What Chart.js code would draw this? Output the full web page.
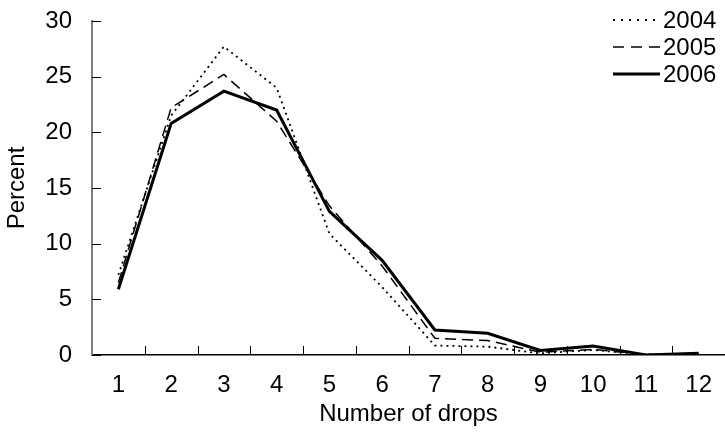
<!DOCTYPE html>
<html>
<head>
<meta charset="utf-8">
<script src="https://cdn.jsdelivr.net/npm/chart.js@4"></script>
<style>
  html, body { margin: 0; padding: 0; background: #fff; }
  #wrap { width: 725px; height: 446px; }
</style>
</head>
<body>
<div id="wrap"><canvas id="chart"></canvas></div>
<script>
// Values
const drops = ['1', '2', '3', '4', '5', '6', '7', '8', '9', '10', '11', '12'];
const pct2004 = [7.2, 21.5, 27.7, 24.0, 10.9, 6.1, 0.85, 0.75, 0.15, 0.45, 0.05, 0.1];
const pct2005 = [6.5, 22.2, 25.2, 21.0, 13.4, 8.0, 1.5, 1.3, 0.25, 0.5, 0.05, 0.15];
const pct2006 = [5.9, 20.8, 23.7, 22.0, 12.9, 8.5, 2.25, 1.95, 0.4, 0.8, 0.0, 0.15];
const yTicks = [0, 5, 10, 15, 20, 25, 30];

const FONT = '"Liberation Sans", Arial, sans-serif';
const FSIZE = 24;

// tick marks pointing into the plot, like the original
const innerTicks = {
  id: 'innerTicks',
  afterDraw(chart) {
    const ctx = chart.ctx;
    const x = chart.scales.x, y = chart.scales.y;
    const area = chart.chartArea;
    ctx.save();
    ctx.strokeStyle = '#000';
    ctx.lineWidth = 1;
    ctx.beginPath();
    yTicks.forEach(v => {
      const py = Math.round(y.getPixelForValue(v)) + 0.5;
      ctx.moveTo(area.left, py);
      ctx.lineTo(area.left + 9, py);
    });
    for (let i = 0; i < drops.length - 1; i++) {
      const px = Math.round((x.getPixelForValue(i) + x.getPixelForValue(i + 1)) / 2) + 0.5;
      ctx.moveTo(px, area.bottom);
      ctx.lineTo(px, area.bottom - 9);
    }
    ctx.stroke();
    ctx.restore();
  }
};

// legend in the top right corner, drawn from the dataset styles
const cornerLegend = {
  id: 'cornerLegend',
  afterDraw(chart) {
    const ctx = chart.ctx;
    ctx.save();
    ctx.font = FSIZE + 'px ' + FONT;
    ctx.fillStyle = '#000';
    ctx.textBaseline = 'middle';
    chart.data.datasets.forEach((ds, i) => {
      const yy = 20 + i * 27;
      ctx.strokeStyle = '#000';
      ctx.lineWidth = ds.borderWidth;
      ctx.setLineDash(ds.legendDash || []);
      ctx.beginPath();
      ctx.moveTo(613, yy);
      ctx.lineTo(660, yy);
      ctx.stroke();
      ctx.setLineDash([]);
      ctx.fillText(ds.label, 663, yy + 1);
    });
    ctx.restore();
  }
};

new Chart(document.getElementById('chart'), {
  type: 'line',
  data: {
    labels: drops,
    datasets: [
      { label: '2004', data: pct2004, borderColor: '#000', borderWidth: 1.8,
        borderDash: [2, 4], legendDash: [2, 6], pointRadius: 0, tension: 0 },
      { label: '2005', data: pct2005, borderColor: '#000', borderWidth: 1.5,
        borderDash: [11, 6], legendDash: [11, 7], pointRadius: 0, tension: 0 },
      { label: '2006', data: pct2006, borderColor: '#000', borderWidth: 3,
        pointRadius: 0, tension: 0 }
    ]
  },
  options: {
    responsive: true,
    maintainAspectRatio: false,
    animation: false,
    layout: { padding: 0 },
    plugins: { legend: { display: false }, tooltip: { enabled: false } },
    scales: {
      x: {
        offset: true,
        grid: { display: true, drawOnChartArea: false, drawTicks: false },
        border: { display: true, color: '#000', width: 1.5 },
        ticks: { color: '#000', font: { family: FONT, size: FSIZE }, padding: 16, maxRotation: 0 },
        title: { display: true, text: 'Number of drops', color: '#000',
          font: { family: FONT, size: FSIZE }, padding: { top: 2, bottom: 17 } },
        afterFit(scale) {
          scale.height = 91;
          scale.paddingLeft = 0;
          scale.paddingRight = 0;
        }
      },
      y: {
        min: 0, max: 30,
        afterBuildTicks(scale) { scale.ticks = yTicks.map(v => ({ value: v })); },
        grid: { display: true, drawOnChartArea: false, drawTicks: false },
        border: { display: true, color: '#808080', width: 2 },
        ticks: { color: '#000', font: { family: FONT, size: FSIZE }, padding: 20 },
        title: { display: true, text: 'Percent', color: '#000',
          font: { family: FONT, size: FSIZE }, padding: { top: 3, bottom: 0 } },
        afterFit(scale) {
          scale.width = 92;
          scale.paddingTop = 21;
          scale.paddingBottom = 0;
        }
      }
    }
  },
  plugins: [innerTicks, cornerLegend]
});
</script>
</body>
</html>
